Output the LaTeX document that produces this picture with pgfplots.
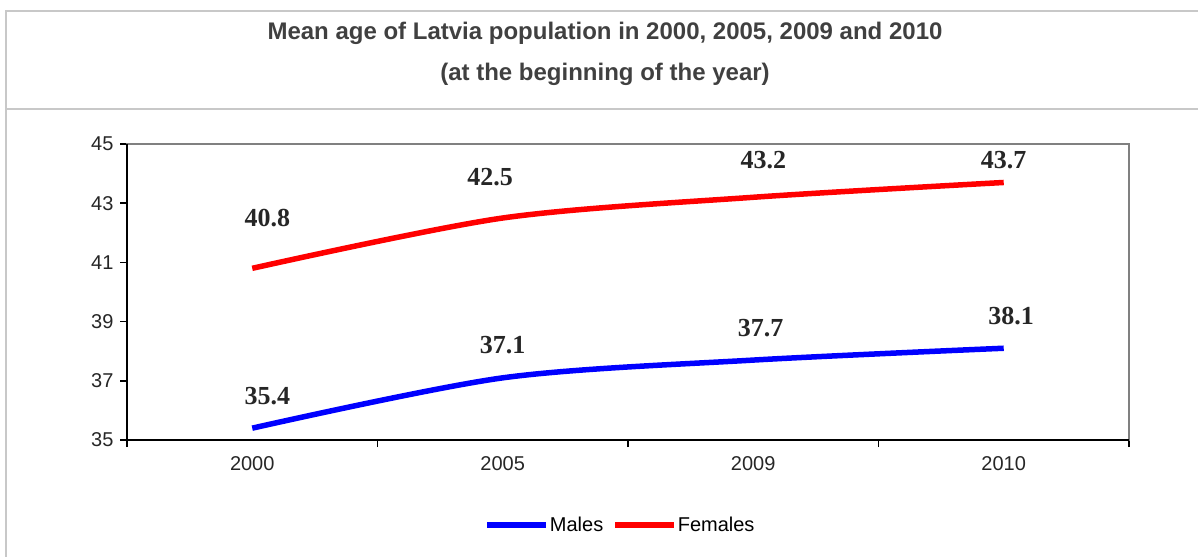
\documentclass[border=0pt]{standalone}
\usepackage{fontspec}
\setmainfont{Liberation Sans}
\newfontfamily\valuefont{Liberation Serif}
\usepackage{pgfplots}
\pgfplotsset{compat=1.18}
\definecolor{framegray}{HTML}{C8C8C8}
\definecolor{titlegray}{HTML}{404040}
\definecolor{spinegray}{HTML}{808080}
\begin{document}
\begin{tikzpicture}
\path[use as bounding box] (0pt,0pt) rectangle (1198pt,557pt);
\draw[framegray, line width=1.5pt] (1198pt,546pt) -- (6pt,546pt) -- (6pt,0pt);
\draw[framegray, line width=1.5pt] (6pt,448pt) -- (1198pt,448pt);
\node[font=\bfseries\fontsize{24}{28}\selectfont, text=titlegray] at (605pt,524pt)
  {Mean age of Latvia population in 2000, 2005, 2009 and 2010};
\node[font=\bfseries\fontsize{24}{28}\selectfont, text=titlegray] at (605pt,483pt)
  {(at the beginning of the year)};
\begin{axis}[
    at={(127pt,117pt)}, anchor=south west,
    scale only axis, width=1002pt, height=296pt,
    xmin=-0.5, xmax=3.5, ymin=35, ymax=45,
    xtick={0,1,2,3}, xticklabels={2000,2005,2009,2010},
    minor xtick={-0.5,0.5,1.5,2.5,3.5},
    ytick={35,37,...,45},
    xtick pos=lower, ytick pos=left,
    tick align=outside,
    major x tick style={draw=none},
    major tick length=7pt, minor tick length=7pt,
    every tick/.style={black, line width=1.5pt},
    axis line style={spinegray, line width=1.5pt},
    tick label style={font=\fontsize{20}{24}\selectfont, text=black!85},
    /pgf/number format/assume math mode=true,
    xticklabel style={yshift=-6pt},
    yticklabel style={xshift=-3pt},
    legend style={at={(0.492,-0.287)}, anchor=center, draw=none,
      font=\fontsize{20}{24}\selectfont, legend columns=2,
      /tikz/every even column/.append style={column sep=8pt},
      nodes={inner sep=1pt}},
    legend image code/.code={\draw[#1] (0pt,0pt) -- (59pt,0pt);},
    clip=false,
]
\addplot[blue, line width=5.5pt, smooth, tension=0.5] coordinates {
    (0,35.4) (1,37.1) (2,37.7) (3,38.1)
};
\addlegendentry{Males}
\addplot[red, line width=5.5pt, smooth, tension=0.5] coordinates {
    (0,40.8) (1,42.5) (2,43.2) (3,43.7)
};
\addlegendentry{Females}
\draw[black, line width=2pt] (rel axis cs:0,1) -- (rel axis cs:0,0) -- (rel axis cs:1,0);
\begin{scope}[every node/.style={font=\valuefont\bfseries\fontsize{26}{30}\selectfont, text=black!85}]
\node at (axis cs:0.06,36.49) {35.4};
\node at (axis cs:1.00,38.21) {37.1};
\node at (axis cs:2.03,38.78) {37.7};
\node at (axis cs:3.03,39.19) {38.1};
\node at (axis cs:0.06,42.50) {40.8};
\node at (axis cs:0.95,43.88) {42.5};
\node at (axis cs:2.04,44.46) {43.2};
\node at (axis cs:3.00,44.46) {43.7};
\end{scope}
\end{axis}
\end{tikzpicture}
\end{document}
